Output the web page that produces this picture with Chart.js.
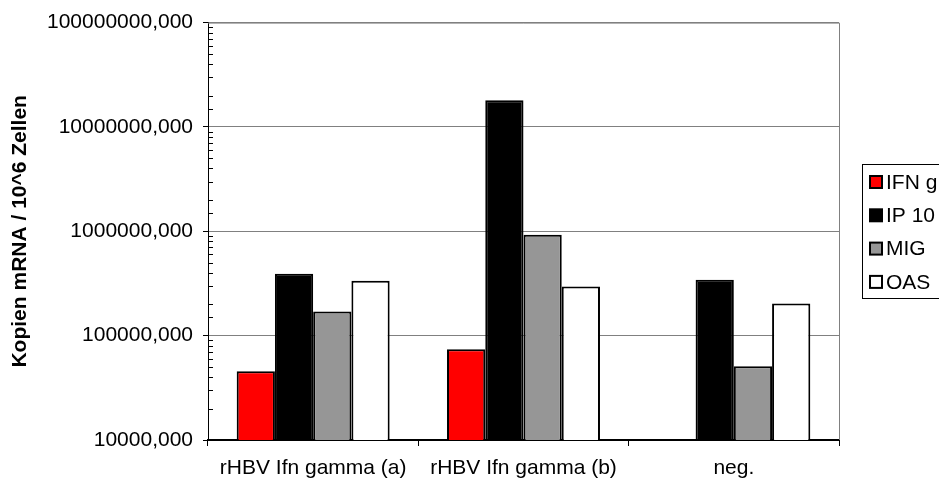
<!DOCTYPE html>
<html>
<head>
<meta charset="utf-8">
<script src="https://cdn.jsdelivr.net/npm/chart.js@4/dist/chart.umd.min.js"></script>
<style>
  html, body { margin: 0; padding: 0; background: #fff; overflow: hidden; }
  #wrap { width: 939px; height: 484px; position: relative; }
</style>
</head>
<body>
<div id="wrap"><canvas id="c"></canvas></div>
<script>
// Categories (samples)
const categories = ['rHBV Ifn gamma (a)', 'rHBV Ifn gamma (b)', 'neg.'];

// Copies of mRNA per 10^6 cells, one array per gene
const ifnG = [45600, 74000, null];
const ip10 = [393000, 18000000, 344000];
const mig  = [170000, 927000, 50800];
const oas  = [336000, 295000, 203000];

const seriesNames  = ['IFN g', 'IP 10', 'MIG', 'OAS'];
const seriesColors = ['#ff0000', '#000000', '#969696', '#ffffff'];

// Logarithmic axis limits
const yMin = 10000;
const yMax = 100000000;

const FONT = '"Liberation Sans", Arial, Helvetica, sans-serif';

const isDecade = v => {
  const l = Math.log10(v);
  return Math.abs(l - Math.round(l)) < 1e-9;
};
const fmt = v => v.toFixed(3).replace('.', ',');

// Gray frame on the top/right of the plot area
const framePlugin = {
  id: 'frame',
  beforeDatasetsDraw(chart) {
    const { ctx, chartArea: a } = chart;
    ctx.save();
    ctx.strokeStyle = '#808080';
    ctx.lineWidth = 1;
    ctx.beginPath();
    ctx.moveTo(a.left, a.top + 0.5);
    ctx.lineTo(a.right + 0.5, a.top + 0.5);
    ctx.lineTo(a.right + 0.5, a.bottom);
    ctx.stroke();
    ctx.restore();
  }
};

// Short inward minor tick marks on the value axis
const minorTicksPlugin = {
  id: 'minorTicks',
  afterDraw(chart) {
    const { ctx, scales: { y }, chartArea: a } = chart;
    ctx.save();
    ctx.strokeStyle = '#000';
    ctx.lineWidth = 1;
    ctx.beginPath();
    y.ticks.forEach(t => {
      if (isDecade(t.value)) return;
      const py = Math.round(y.getPixelForValue(t.value)) + 0.5;
      ctx.moveTo(a.left, py);
      ctx.lineTo(a.left + 5, py);
    });
    ctx.stroke();
    ctx.restore();
  }
};

// Boxed legend at the right edge
const boxLegendPlugin = {
  id: 'boxLegend',
  afterDraw(chart) {
    const { ctx } = chart;
    const x0 = 862, y0 = 164, y1 = 298;
    const rowH = 33.3, firstRow = 182;
    ctx.save();
    ctx.strokeStyle = '#000';
    ctx.lineWidth = 1;
    ctx.strokeRect(x0 + 0.5, y0 + 0.5, 200, y1 - y0);
    ctx.font = '21px ' + FONT;
    ctx.textBaseline = 'middle';
    ctx.textAlign = 'left';
    chart.data.datasets.forEach((ds, i) => {
      const cy = firstRow + i * rowH;
      ctx.fillStyle = ds.backgroundColor;
      ctx.fillRect(870, cy - 6, 12, 12);
      ctx.lineWidth = 2;
      ctx.strokeStyle = '#000';
      ctx.strokeRect(870, cy - 6, 12, 12);
      ctx.fillStyle = '#000';
      ctx.fillText(ds.label, 886, cy + 1);
    });
    ctx.restore();
  }
};

const seriesData = [ifnG, ip10, mig, oas];

new Chart(document.getElementById('c'), {
  type: 'bar',
  data: {
    labels: categories,
    datasets: seriesData.map((d, i) => ({
      label: seriesNames[i],
      data: d,
      backgroundColor: seriesColors[i],
      borderColor: '#000',
      borderWidth: 2,
      categoryPercentage: 4 / 5.5,
      barPercentage: 1.0
    }))
  },
  options: {
    responsive: true,
    maintainAspectRatio: false,
    animation: false,
    layout: { padding: { left: 0, right: 100, top: 22, bottom: 0 } },
    plugins: {
      legend: { display: false },
      tooltip: { enabled: false }
    },
    scales: {
      x: {
        offset: true,
        grid: {
          offset: true,
          drawOnChartArea: false,
          drawTicks: true,
          tickLength: 6,
          color: '#000',
          tickColor: '#000'
        },
        border: { color: '#000', width: 2 },
        ticks: {
          color: '#000',
          font: { family: FONT, size: 21 },
          padding: 10,
          maxRotation: 0,
          autoSkip: false
        },
        afterFit(scale) { scale.height = 44; }
      },
      y: {
        type: 'logarithmic',
        min: yMin,
        max: yMax,
        grid: {
          color: c => (c.tick && isDecade(c.tick.value)) ? '#808080' : 'rgba(0,0,0,0)',
          tickColor: c => (c.tick && isDecade(c.tick.value)) ? '#000' : 'rgba(0,0,0,0)',
          drawTicks: true,
          tickLength: 5
        },
        border: { color: '#000', width: 1 },
        ticks: {
          color: '#000',
          font: { family: FONT, size: 21 },
          padding: 10,
          autoSkip: false,
          callback: v => isDecade(v) ? fmt(v) : ''
        },
        title: {
          display: true,
          text: 'Kopien mRNA / 10^6 Zellen',
          color: '#000',
          font: { family: FONT, size: 21, weight: 'bold' },
          padding: { top: 8, bottom: 0 }
        },
        afterFit(scale) { scale.width = 208; }
      }
    }
  },
  plugins: [framePlugin, minorTicksPlugin, boxLegendPlugin]
});
</script>
</body>
</html>
